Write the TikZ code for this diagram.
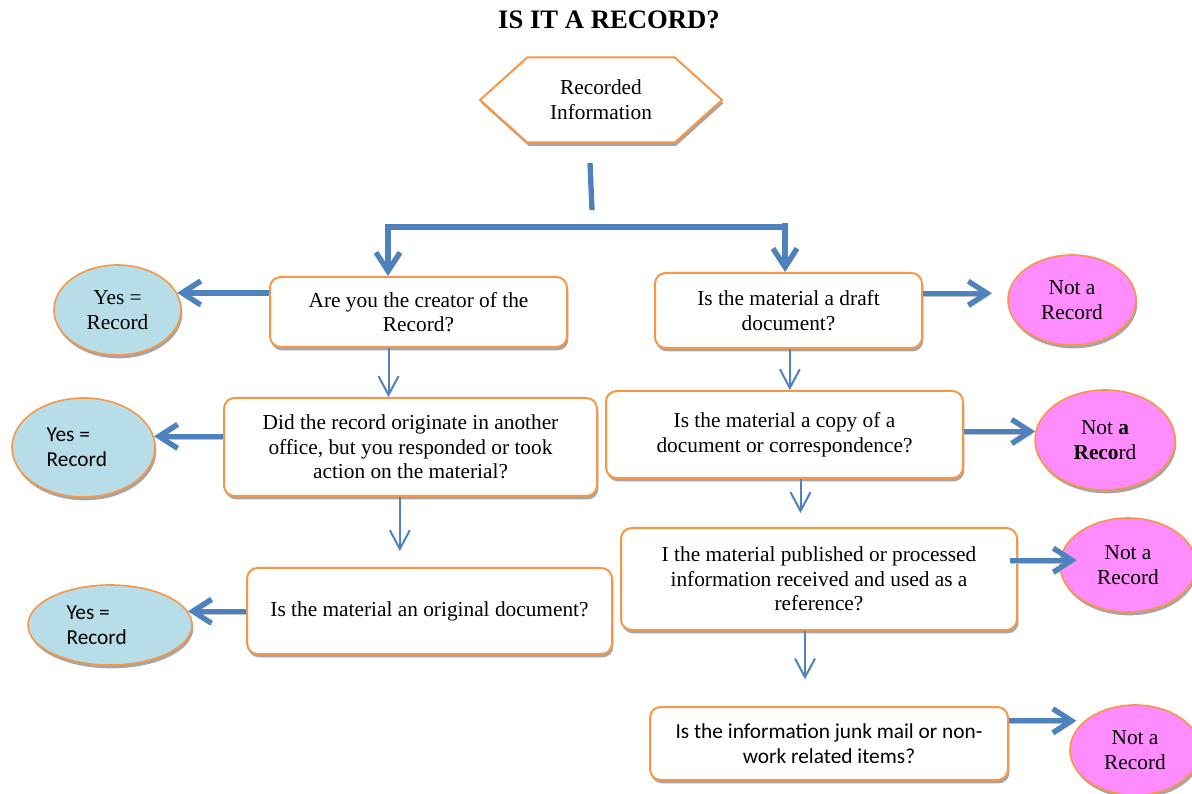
\documentclass[tikz,border=0pt]{standalone}
\usepackage{fontspec}
\setmainfont{Liberation Serif}
\newfontfamily\calibri{Carlito}
\usetikzlibrary{shapes.geometric,shapes.symbols,arrows.meta,shadows}
\definecolor{boxorange}{RGB}{247,150,70}
\definecolor{arrowblue}{RGB}{79,129,189}
\definecolor{yesblue}{RGB}{183,222,232}
\definecolor{notpink}{RGB}{255,140,255}
\definecolor{shadowgray}{RGB}{165,165,165}
\begin{document}
\begin{tikzpicture}
[x=0.75pt, y=0.75pt,
  every node/.style={font=\fontsize{16}{18.5}\selectfont},
  shadowdecorate/.style={drop shadow={shadow xshift=1pt, shadow yshift=-2.5pt,
    fill=shadowgray, opacity=1}},
  questbox/.style={shape=rectangle, rounded corners=8pt, draw=boxorange,
    line width=1.5pt, fill=white, align=center, inner sep=2pt, shadowdecorate},
  questsansbox/.style={questbox, font=\fontsize{16}{18.5}\calibri},
  hexdecorate/.style={shape=signal, signal to=east and west,
    signal pointer angle=84, draw=boxorange, line width=1.5pt, fill=white,
    align=center, inner sep=2pt, shadowdecorate},
  answerdecorate/.style={shape=ellipse, draw=boxorange, line width=1.2pt,
    inner sep=0pt, align=center, shadowdecorate},
  yesdecorate/.style={answerdecorate, fill=yesblue},
  yessansdecorate/.style={yesdecorate, align=left,
    font=\fontsize{16}{18.5}\calibri},
  notdecorate/.style={answerdecorate, fill=notpink},
  bigline/.style={draw=arrowblue, line width=4pt,
    preaction={draw=shadowgray!70, transform canvas={shift={(1pt,-2pt)}}}},
  bigarrow/.style={bigline, -{Straight Barb[length=14pt,width=18pt]}},
  smallarrow/.style={draw=arrowblue, line width=1.5pt,
    -{Straight Barb[length=14pt,width=15pt]}}]
\useasboundingbox (0,0) rectangle (1192,793);
%% title and start
\node (title) at (609,773) [font=\fontsize{20}{24}\selectfont\bfseries]
  {IS IT A RECORD?};
\node (recinfo) at (601,693) [hexdecorate, minimum width=181.5pt,
  minimum height=63.75pt] {Recorded\\Information};
%% questions
\foreach \nodename/\x/\y/\w/\h/\sty/\txt in {
  creator/418.5/481/222.75pt/52.5pt/questbox/{Are you the creator of the\\Record?},
  draft/788.5/482.5/200.25pt/56.25pt/questbox/{Is the material a draft\\document?},
  origin/410.5/346/279.75pt/73.5pt/questbox/{Did the record originate in another\\office, but you responded or took\\action on the material?},
  copy/784.5/358.5/267.75pt/65.25pt/questbox/{Is the material a copy of a\\document or correspondence?},
  original/429.5/182/273.75pt/64.5pt/questbox/{Is the material an original document?},
  published/819/214/297pt/76.5pt/questbox/{I the material published or processed\\information received and used as a\\reference?},
  junk/829/49.5/268.5pt/54.75pt/questsansbox/{Is the information junk mail or non-\\work related items?}}
{
  \node (\nodename) at (\x,\y) [\sty, minimum width=\w, minimum height=\h] {\txt};
}
%% answers
\foreach \nodename/\x/\y/\w/\h/\sty/\txt in {
  yescreator/117.5/483/95.25pt/67.5pt/yesdecorate/{Yes =\\Record},
  yesorigin/83.5/345.5/107.25pt/74.25pt/yessansdecorate/{Yes =\\Record\hspace*{10pt}},
  yesoriginal/110/168/123pt/60pt/yessansdecorate/{Yes =\\Record\hspace*{20pt}},
  notdraft/1072/493/96pt/67.5pt/notdecorate/{Not a\\Record},
  notcopy/1105/353/105pt/75pt/notdecorate/{Not \textbf{a}\\\textbf{Reco}rd},
  notpublished/1128/228/102pt/70.5pt/notdecorate/{Not a\\Record},
  notjunk/1135/43/97.5pt/67.5pt/notdecorate/{Not a\\Record}}
{
  \node (\nodename) at (\x,\y) [\sty, minimum width=\w, minimum height=\h] {\txt};
}
%% split below the start
\coordinate (stemtop) at (590,630);
\coordinate (stembot) at (592,583);
\coordinate (splitL) at (388,566);
\coordinate (splitR) at (785,566);
\draw[bigline] (stemtop) -- (stembot);
\draw[bigarrow] (splitR) -- (splitL) -- (splitL |- creator.north);
\draw[bigarrow] ([yshift=3pt]splitR) -- (splitR |- draft.north);
%% yes / not arrows
\path
\foreach \startnode/\side/\endnode/\ang/\gap/\back in {
  creator/west/yescreator/16/0pt/0pt, origin/west/yesorigin/9/0pt/0pt,
  original/west/yesoriginal/10/0pt/0pt, draft/east/notdraft/174/12pt/0pt,
  copy/east/notcopy/173/0pt/0pt, published/east/notpublished/176/-13pt/-6pt,
  junk/east/notjunk/150/6pt/0pt}
{
  (\startnode.\side |- \endnode.\ang) edge[bigarrow, shorten >=\gap,
    shorten <=\back] (\endnode.\ang)
};
%% next question arrows
\path
\foreach \startnode/\endnode/\dx/\gap in {creator/origin/-22.5pt/0pt,
  draft/copy/1pt/0pt, origin/original/-8pt/12pt, copy/published/12pt/10.5pt,
  published/junk/-10.5pt/20pt}
{
  ([xshift=\dx]\startnode.south) edge[smallarrow, shorten >=\gap]
    ([xshift=\dx]\startnode.south |- \endnode.north)
};
\end{tikzpicture}
\end{document}
